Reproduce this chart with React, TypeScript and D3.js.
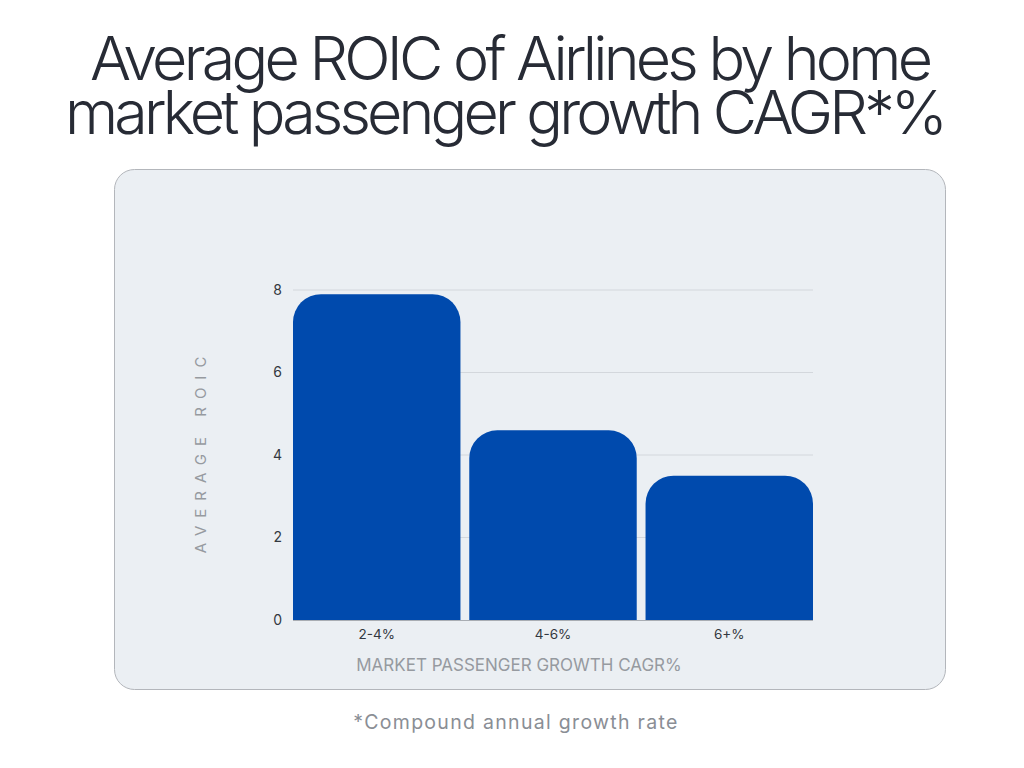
import React from "react";
import * as d3 from "d3";

const categories = ["2-4%", "4-6%", "6+%"];
const roicValues = [7.9, 4.6, 3.5];
const yTicks = [0, 2, 4, 6, 8];
const titleLines = ["Average ROIC of Airlines by home", "market passenger growth CAGR*%"];
const titleWidths = [843, 883];

export default function App() {
  const W = 1024, H = 768;
  const x = d3.scaleBand<string>().domain(categories).range([293, 813]).paddingInner(0.05).paddingOuter(0);
  const y = d3.scaleLinear().domain([0, 8]).range([620, 290]);
  const r = 28;
  const barPath = (cx: number, w: number, top: number, bottom: number) => {
    const rr = Math.min(r, (bottom - top), w / 2);
    const p = d3.path();
    p.moveTo(cx, bottom);
    p.lineTo(cx, top + rr);
    p.arcTo(cx, top, cx + rr, top, rr);
    p.lineTo(cx + w - rr, top);
    p.arcTo(cx + w, top, cx + w, top + rr, rr);
    p.lineTo(cx + w, bottom);
    p.closePath();
    return p.toString();
  };
  const font = "Inter, 'Noto Sans', sans-serif";
  return (
    <svg width={W} height={H} style={{ position: "absolute", left: 0, top: 0, background: "#ffffff" }}>
      <rect x={0} y={0} width={W} height={H} fill="#ffffff" />
      {titleLines.map((t, i) => (
        <text key={i} x={512 + (i === 0 ? -0.5 : -5.5)} y={80 + i * 54} textAnchor="middle" fontFamily={font} fontSize={61}
          fontWeight={300} fill="#272b35" textLength={titleWidths[i]} lengthAdjust="spacing">
          {t}
        </text>
      ))}
      <rect x={114.5} y={169.5} width={831} height={520} rx={20} fill="#ebeff3" stroke="#b3b6bb" strokeWidth={1} />
      {yTicks.filter(t => t > 0).map(t => (
        <line key={t} x1={293} x2={813} y1={y(t)} y2={y(t)} stroke="#d3d7dc" strokeWidth={1} />
      ))}
      {categories.map((c, i) => (
        <path key={c} d={barPath(x(c)!, x.bandwidth(), y(roicValues[i]), y(0))} fill="#004aad" />
      ))}
      <line x1={293} x2={813} y1={y(0) + 0.5} y2={y(0) + 0.5} stroke="#a9adb3" strokeWidth={1} />
      {yTicks.map(t => (
        <text key={t} x={282} y={y(t)} dy="0.35em" textAnchor="end" fontFamily={font} fontSize={14} fill="#333840">
          {t}
        </text>
      ))}
      {categories.map(c => (
        <text key={c} x={x(c)! + x.bandwidth() / 2} y={634} dy="0.35em" textAnchor="middle" fontFamily={font} fontSize={13.5} fill="#333840">
          {c}
        </text>
      ))}
      <text x={519} y={665} dy="0.35em" textAnchor="middle" fontFamily={font} fontSize={17} fill="#969aa0">
        MARKET PASSENGER GROWTH CAGR%
      </text>
      <text transform="translate(201,451) rotate(-90)" textAnchor="middle" dy="0.35em" fontFamily={font} fontSize={15} fill="#969aa0" letterSpacing={8}>
        AVERAGE ROIC
      </text>
      <text x={516} y={722} dy="0.35em" textAnchor="middle" fontFamily={font} fontSize={19.5} fill="#8a8e95" letterSpacing={1.3}>
        *Compound annual growth rate
      </text>
    </svg>
  );
}
